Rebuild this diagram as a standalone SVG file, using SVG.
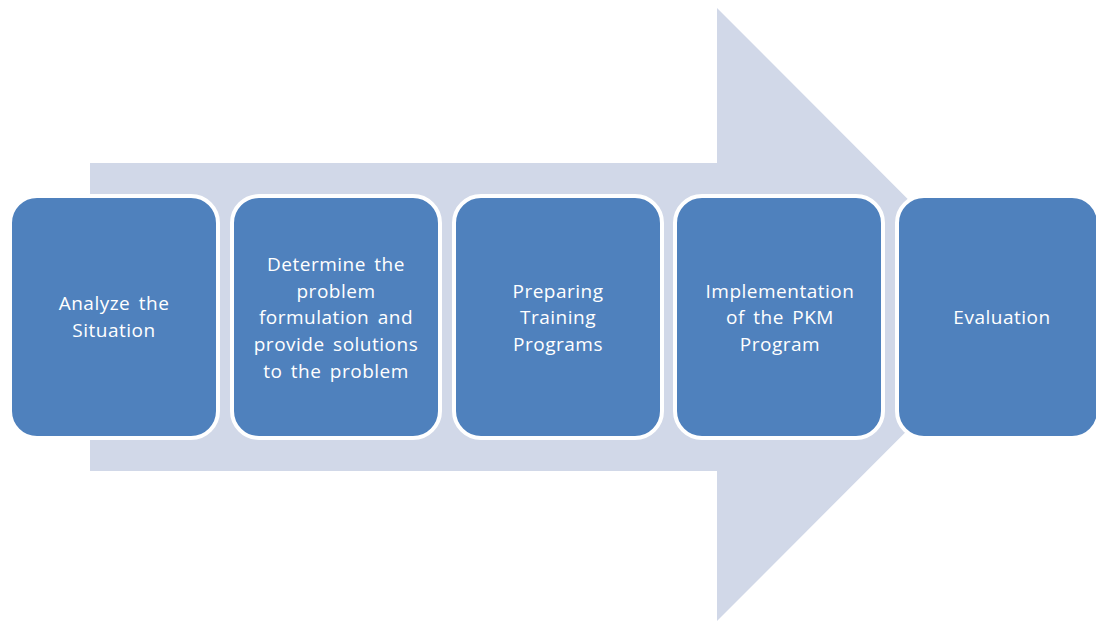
<svg xmlns="http://www.w3.org/2000/svg" width="1096" height="621" viewBox="0 0 1096 621">
<style>
.box{fill:#4F81BD;stroke:#FFFFFF;stroke-width:4}
.t{fill:#FFFFFF;font-family:"Open Sans","Liberation Sans",sans-serif;font-size:19px;letter-spacing:0.5px;word-spacing:3px;text-anchor:middle}
</style>
<rect width="1096" height="621" fill="#FFFFFF"/>
<g id="arrow">
<polygon points="90,163 717,163 717,8 1023,314.5 717,621 717,471 90,471" fill="#D1D8E8"/>
</g>
<g id="node1">
<rect class="box" x="10" y="196" width="208" height="242" rx="27"/>
<text class="t" x="114" y="310">Analyze the</text>
<text class="t" x="114" y="337">Situation</text>
</g>
<g id="node2">
<rect class="box" x="232" y="196" width="208" height="242" rx="27"/>
<text class="t" x="336" y="271">Determine the</text>
<text class="t" x="336" y="298">problem</text>
<text class="t" x="336" y="324">formulation and</text>
<text class="t" x="336" y="351">provide solutions</text>
<text class="t" x="336" y="378">to the problem</text>
</g>
<g id="node3">
<rect class="box" x="454" y="196" width="208" height="242" rx="27"/>
<text class="t" x="558" y="298">Preparing</text>
<text class="t" x="558" y="324">Training</text>
<text class="t" x="558" y="351">Programs</text>
</g>
<g id="node4">
<rect class="box" x="675" y="196" width="208" height="242" rx="27"/>
<text class="t" x="780" y="298">Implementation</text>
<text class="t" x="780" y="324">of the PKM</text>
<text class="t" x="780" y="351">Program</text>
</g>
<g id="node5">
<rect class="box" x="897" y="196" width="202" height="242" rx="27"/>
<text class="t" x="1002" y="324">Evaluation</text>
</g>
<g id="connectors"></g>
</svg>
